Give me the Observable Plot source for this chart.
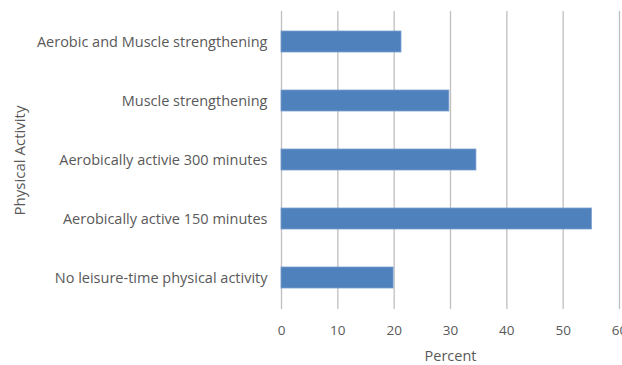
<!DOCTYPE html>
<html>
<head>
<meta charset="utf-8">
<script src="https://cdn.jsdelivr.net/npm/d3@7"></script>
<script src="https://cdn.jsdelivr.net/npm/@observablehq/plot@0.6"></script>
<style>
  body { margin: 0; background: #fff; }
  #chart svg { display: block; }
</style>
</head>
<body>
<div id="chart"></div>
<script>
const categories = [
  "Aerobic and Muscle strengthening",
  "Muscle strengthening",
  "Aerobically activie 300 minutes",
  "Aerobically active 150 minutes",
  "No leisure-time physical activity"
];
const percents = [21.3, 29.8, 34.6, 55.1, 19.9];
const xTicks = [0, 10, 20, 30, 40, 50, 60];
const xTitle = "Percent";
const yTitle = "Physical Activity";

const data = categories.map((c, i) => ({category: c, value: percents[i]}));

const chart = Plot.plot({
  width: 622,
  height: 365,
  marginTop: 11,
  marginBottom: 56,
  marginLeft: 281,
  marginRight: 3,
  style: {fontFamily: "Open Sans, sans-serif", fontSize: "13px", color: "#595959", background: "#fff"},
  x: {domain: [0, 60], ticks: xTicks, label: null},
  y: {domain: categories, paddingInner: 0.64, paddingOuter: 0.32, label: null},
  marks: [
    Plot.gridX(xTicks, {stroke: "#bfbfbf", strokeOpacity: 1, strokeWidth: 1.3}),
    Plot.barX(data, {x: "value", y: "category", fill: "#4f81bd", stroke: "#7a9fcf", strokeWidth: 0.8}),
    Plot.axisX({ticks: xTicks, tickSize: 0, tickPadding: 16, label: null, fontSize: 13.5}),
    Plot.axisY({tickSize: 0, tickPadding: 14, label: null, fontSize: 14.5}),
    Plot.text([xTitle], {text: d => d, frameAnchor: "bottom", dy: 51, fontSize: 14.5, fill: "#595959"}),
    Plot.text([yTitle], {text: d => d, frameAnchor: "left", textAnchor: "middle", dx: -261, rotate: -90, fontSize: 15, fill: "#595959"})
  ]
});
document.getElementById("chart").appendChild(chart);
</script>
</body>
</html>
